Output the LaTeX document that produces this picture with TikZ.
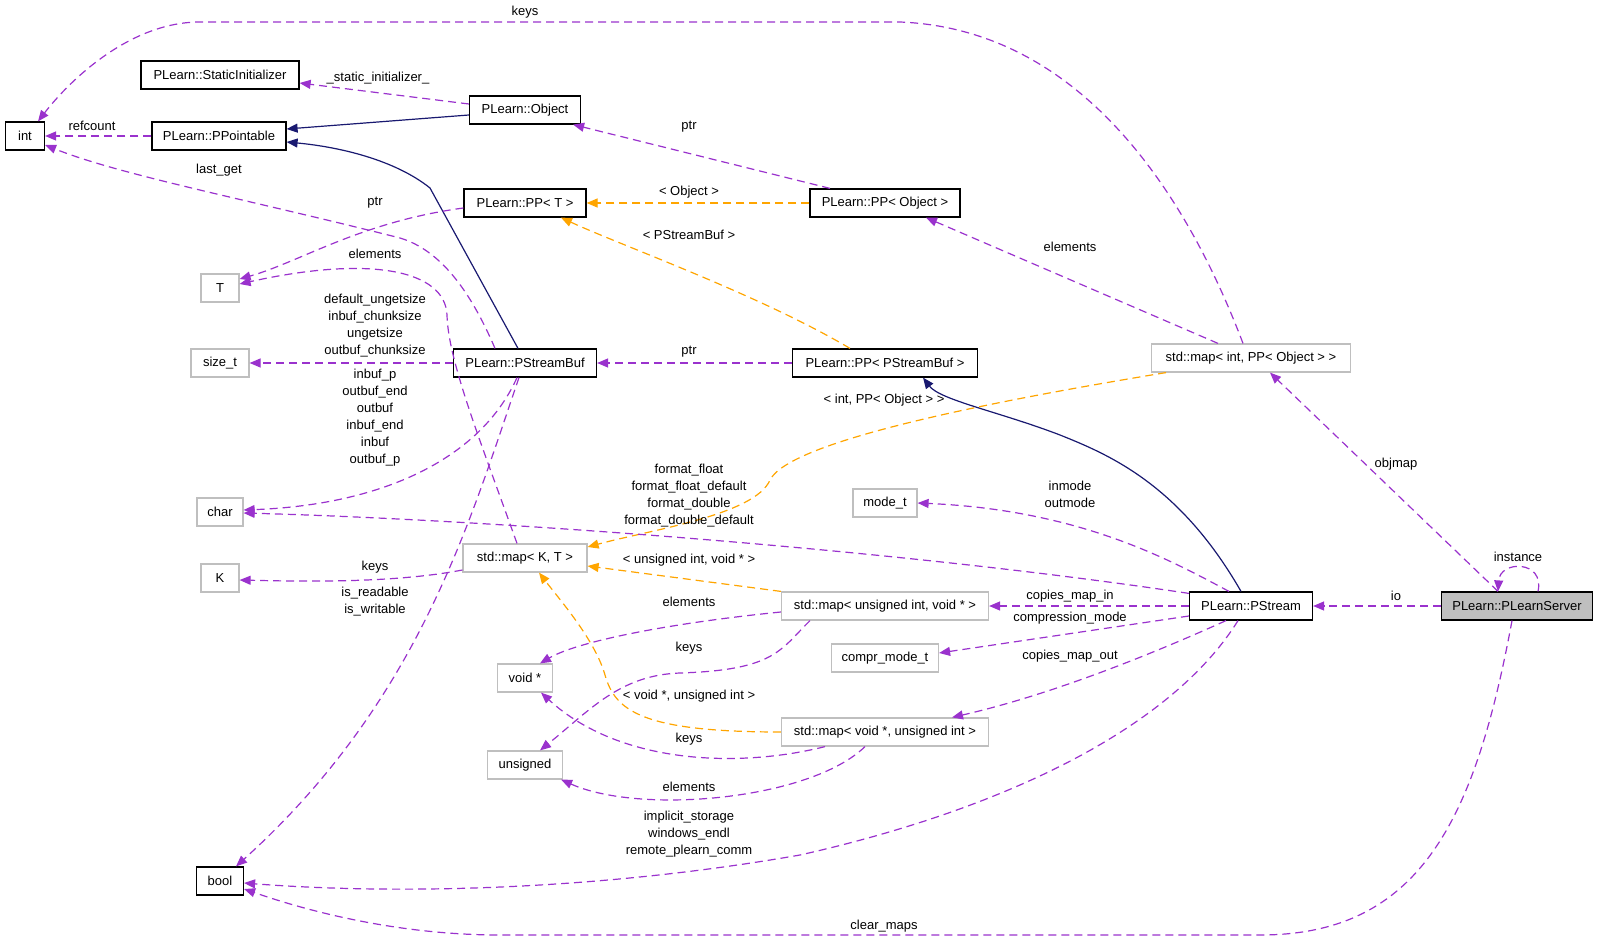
\documentclass[tikz,border=0pt]{standalone}
\usepackage{fontspec}
\setmainfont{Liberation Sans}
\usepackage{tikz}
\usetikzlibrary{arrows.meta}

\definecolor{edgepurple}{HTML}{9A32CD}
\definecolor{edgeorange}{HTML}{FFA500}
\definecolor{edgenavy}{HTML}{191970}
\definecolor{boxgray}{HTML}{BFBFBF}

\tikzset{
  classbox/.style={draw=black, line width=1.2pt, minimum height=28pt, inner sep=0pt,
    font=\fontsize{13}{17}\selectfont},
  extbox/.style={classbox, draw=boxgray},
  memedge/.style={color=edgepurple, line width=1.2pt, dash pattern=on 8pt off 5pt,
    -{Triangle[length=11pt,width=9pt]}},
  tmpledge/.style={memedge, color=edgeorange},
  inhedge/.style={color=edgenavy, line width=1.2pt, -{Triangle[length=11pt,width=9pt]}},
  lbl/.style={font=\fontsize{13}{17}\selectfont, inner sep=0pt, align=center},
}

\begin{document}
\begin{tikzpicture}[x=1pt, y=-1pt]
    \useasboundingbox (0,0) rectangle (1600,941);

    % Classes and types
    \node[classbox, minimum width=39pt] (int) at (25,136) {int};
    \node[classbox, minimum width=158pt] (stinit) at (220,75) {PLearn::StaticInitializer};
    \node[classbox, minimum width=134pt] (ppt) at (219,136) {PLearn::PPointable};
    \node[classbox, minimum width=111pt] (obj) at (525,110) {PLearn::Object};
    \node[classbox, minimum width=122pt] (ppT) at (525,203) {PLearn::PP< T >};
    \node[classbox, minimum width=150pt] (ppObj) at (885,203) {PLearn::PP< Object >};
    \node[extbox, minimum width=38pt] (T) at (220,288) {T};
    \node[extbox, minimum width=58pt] (sizet) at (220,363) {size\_t};
    \node[classbox, minimum width=143pt] (psb) at (525,363) {PLearn::PStreamBuf};
    \node[classbox, minimum width=185pt] (ppPsb) at (885,363) {PLearn::PP< PStreamBuf >};
    \node[extbox, minimum width=199pt] (mapIntObj) at (1251,358) {std::map< int, PP< Object > >};
    \node[extbox, minimum width=46pt] (char) at (220,512) {char};
    \node[extbox, minimum width=64pt] (modet) at (885,503) {mode\_t};
    \node[extbox, minimum width=124pt] (mapKT) at (525,558) {std::map< K, T >};
    \node[extbox, minimum width=38pt] (K) at (220,578) {K};
    \node[extbox, minimum width=207pt] (mapUV) at (885,606) {std::map< unsigned int, void * >};
    \node[classbox, minimum width=123pt] (pstream) at (1251,606) {PLearn::PStream};
    \node[classbox, fill=boxgray, minimum width=151pt] (server) at (1517,606) {PLearn::PLearnServer};
    \node[extbox, minimum width=107pt] (compr) at (885,658) {compr\_mode\_t};
    \node[extbox, minimum width=55pt] (voidp) at (525,678) {void *};
    \node[extbox, minimum width=207pt] (mapVU) at (885,732) {std::map< void *, unsigned int >};
    \node[extbox, minimum width=75pt] (unsig) at (525,765) {unsigned};
    \node[classbox, minimum width=47pt] (bool) at (220,881) {bool};

    % Inheritance
    \draw[inhedge] ([yshift=-5pt]obj.west) -- ([yshift=7pt]ppt.east);
    \draw[inhedge] ([xshift=-7pt]psb.north) -- (430,188) .. controls (395,160) and (340,147) .. ([yshift=-6pt]ppt.east);
    \draw[inhedge] ([xshift=-10pt]pstream.north) .. controls (1180,485) and (1110,455) .. (1060,435)
        .. controls (1000,412) and (940,400) .. ([xshift=38pt]ppPsb.south);

    % Template instances
    \draw[tmpledge] (ppObj.west) -- (ppT.east);
    \draw[tmpledge] ([xshift=-35pt]ppPsb.north) .. controls (760,295) and (620,245) .. ([xshift=36pt]ppT.south);
    \draw[tmpledge] ([xshift=-85pt]mapIntObj.south) .. controls (1000,400) and (790,440) .. (770,480)
        .. controls (755,515) and (650,530) .. ([yshift=11pt]mapKT.east);
    \draw[tmpledge] (mapUV.north west) -- ([yshift=-8pt]mapKT.east);
    \draw[tmpledge] (mapVU.west) .. controls (640,732) and (615,710) .. (605,675)
        .. controls (595,640) and (560,600) .. ([xshift=14pt]mapKT.south);

    % Members
    \draw[memedge] ([xshift=-8pt]mapIntObj.north) .. controls (1200,230) and (1100,30) .. (900,22)
        -- (200,22) .. controls (130,22) and (70,80) .. ([xshift=13pt]int.north);
    \draw[memedge] ([yshift=6pt]obj.west) -- ([yshift=-8pt]stinit.east);
    \draw[memedge] (ppt.west) -- (int.east);
    \draw[memedge] ([xshift=-30pt]psb.north) .. controls (470,290) and (440,250) .. (400,238)
        .. controls (250,200) and (120,175) .. ([yshift=-9pt]int.east);
    \draw[memedge] ([xshift=-55pt]ppObj.north) -- ([xshift=-8pt]obj.south east);
    \draw[memedge] ([yshift=-5pt]ppT.west) .. controls (360,222) and (300,262) .. ([yshift=9pt]T.east);
    \draw[memedge] ([xshift=-8pt]mapKT.north) .. controls (480,440) and (448,360) .. (447,315)
        .. controls (445,270) and (370,255) .. ([yshift=4pt]T.east);
    \draw[memedge] ([xshift=-33pt]mapIntObj.north) -- ([xshift=41pt]ppObj.south);
    \draw[memedge] (psb.west) -- (sizet.east);
    \draw[memedge] ([xshift=-8pt]psb.south) .. controls (480,460) and (380,505) .. ([yshift=2pt]char.east);
    \draw[memedge] ([xshift=-6pt]psb.south) .. controls (470,520) and (420,700) .. ([xshift=16pt]bool.north);
    \draw[memedge] (ppPsb.west) -- (psb.east);
    \draw[memedge] ([yshift=-12pt]mapKT.west) .. controls (400,582) and (320,582) .. ([yshift=-2pt]K.east);
    \draw[memedge] ([yshift=-2pt]pstream.north west) .. controls (900,550) and (500,520) .. ([yshift=-1pt]char.east);
    \draw[memedge] ([xshift=-22pt]pstream.north) .. controls (1170,560) and (1080,510) .. (modet.east);
    \draw[memedge] (pstream.west) -- (mapUV.east);
    \draw[memedge] ([yshift=-10pt]pstream.west) -- ([yshift=5pt]compr.east);
    \draw[memedge] ([xshift=-25pt]pstream.south) .. controls (1150,655) and (1050,695) .. ([xshift=67pt]mapVU.north);
    \draw[memedge] ([xshift=-13pt]pstream.south) .. controls (1170,730) and (1000,810) .. (800,855)
        .. controls (600,890) and (400,895) .. ([yshift=-2pt]bool.east);
    \draw[memedge] ([yshift=-6pt]mapUV.west) .. controls (680,622) and (580,640) .. ([xshift=15pt]voidp.north);
    \draw[memedge] ([xshift=-75pt]mapUV.south) .. controls (780,650) and (775,670) .. (680,673)
        .. controls (620,675) and (590,710) .. ([xshift=15pt]unsig.north);
    \draw[memedge] ([xshift=-60pt]mapVU.south) .. controls (740,768) and (620,765) .. ([xshift=16pt]voidp.south);
    \draw[memedge] ([xshift=-20pt]mapVU.south) .. controls (810,800) and (640,815) .. ([xshift=-2pt]unsig.south east);
    \draw[memedge] (server.west) -- (pstream.east);
    \draw[memedge] ([xshift=-19pt]server.north) -- ([xshift=19pt]mapIntObj.south);
    \draw[memedge] ([xshift=21pt]server.north) .. controls (1545,560) and (1500,560) .. ([xshift=-19pt]server.north);
    \draw[memedge] ([xshift=-5pt]server.south) .. controls (1475,820) and (1420,935) .. (1260,935)
        -- (500,935) .. controls (400,935) and (310,912) .. ([yshift=-8pt]bool.east);

    % Edge labels
    \node[lbl] (l-keys) at (525,12) {keys};
    \node[lbl] (l-static) at (378,78) {\_static\_initializer\_};
    \node[lbl] (l-refcount) at (92,126) {refcount};
    \node[lbl] (l-lastget) at (219,170) {last\_get};
    \node[lbl] (l-ptrobj) at (689,127) {ptr};
    \node[lbl] (l-ptrT) at (375,203) {ptr};
    \node[lbl] (l-object) at (689,192) {< Object >};
    \node[lbl] (l-psbuf) at (689,235) {< PStreamBuf >};
    \node[lbl] (l-elemT) at (375,254) {elements};
    \node[lbl] (l-elemobj) at (1070,247) {elements};
    \node[lbl] (l-sizet) at (375,326) {default\_ungetsize\\inbuf\_chunksize\\ungetsize\\outbuf\_chunksize};
    \node[lbl] (l-ptrpsb) at (689,352) {ptr};
    \node[lbl] (l-char) at (375,418) {inbuf\_p\\outbuf\_end\\outbuf\\inbuf\_end\\inbuf\\outbuf\_p};
    \node[lbl] (l-intobj) at (884,400) {< int, PP< Object > >};
    \node[lbl] (l-objmap) at (1396,464) {objmap};
    \node[lbl] (l-format) at (689,496) {format\_float\\format\_float\_default\\format\_double\\format\_double\_default};
    \node[lbl] (l-mode) at (1070,494) {inmode\\outmode};
    \node[lbl] (l-instance) at (1518,557) {instance};
    \node[lbl] (l-uintvoid) at (689,560) {< unsigned int, void * >};
    \node[lbl] (l-keysK) at (375,567) {keys};
    \node[lbl] (l-readable) at (375,602) {is\_readable\\is\_writable};
    \node[lbl] (l-io) at (1396,596) {io};
    \node[lbl] (l-mapin) at (1070,596) {copies\_map\_in};
    \node[lbl] (l-elemvoid) at (689,602) {elements};
    \node[lbl] (l-compr) at (1070,618) {compression\_mode};
    \node[lbl] (l-keysuns) at (689,648) {keys};
    \node[lbl] (l-mapout) at (1070,656) {copies\_map\_out};
    \node[lbl] (l-voiduint) at (689,696) {< void *, unsigned int >};
    \node[lbl] (l-keysvoid) at (689,739) {keys};
    \node[lbl] (l-elemuns) at (689,787) {elements};
    \node[lbl] (l-bool) at (689,834) {implicit\_storage\\windows\_endl\\remote\_plearn\_comm};
    \node[lbl] (l-clear) at (884,926) {clear\_maps};

\end{tikzpicture}
\end{document}
